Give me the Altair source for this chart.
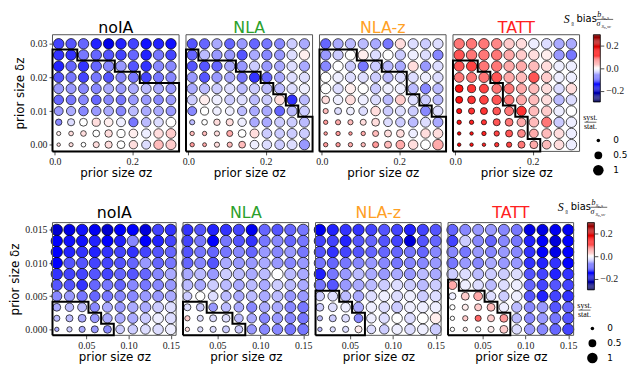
import numpy as np
import pandas as pd
import altair as alt

MODELS = ["noIA", "NLA", "NLA-z", "TATT"]
TITLE_COLORS = ["#000000", "#2ca02c", "#ffa025", "#ff2020"]

# grid of prior sizes
SIGMA_TOP = [0.01, 0.042, 0.074, 0.107, 0.139, 0.171, 0.203, 0.236, 0.268, 0.3]
DELTA_TOP = [0.0, 0.00333, 0.00667, 0.01, 0.01333, 0.01667, 0.02, 0.02333, 0.02667, 0.03]
SIGMA_BOT = [0.015, 0.03, 0.045, 0.06, 0.075, 0.09, 0.105, 0.12, 0.135, 0.15]
DELTA_BOT = [0.0, 0.00167, 0.00333, 0.005, 0.00667, 0.00833, 0.01, 0.01167, 0.01333, 0.015]

# S8 bias in units of 0.01, rows from largest delta (top) to zero (bottom)
BIAS_TOP = {
    "noIA": [
        [-11, -10, -9, -13, -17, -13, -11, -14, -13, -14],
        [-12, -12, -8, -9, -10, -11, -9, -13, -8, -11],
        [-13, -9, -12, -9, -7, -6, -10, -12, -7, -7],
        [-10, -8, -11, -8, -10, -7, -8, -11, -8, -7],
        [-6, -6, -7, -7, -5, -6, -5, -4, -5, -6],
        [-9, -8, -7, -9, -7, -8, -6, -6, -7, -6],
        [-6, -5, -7, -6, -5, -7, -4, -5, -5, -6],
        [-7, -2, 0, 2, 1, -1, -8, -4, -2, 0],
        [1, 2, 2, 0, 2, 0, 1, -1, 2, 3],
        [2, 2, 0, 2, 2, 0, 2, -2, 4, 3],
    ],
    "NLA": [
        [-10, -9, -5, -9, -6, -9, -8, -7, -3, -5],
        [-9, -4, -6, -6, -10, -5, -7, -6, -2, 1],
        [-10, -10, -9, -5, -6, -3, -6, -5, -2, -5],
        [-6, -10, -6, -5, -8, -12, -9, -5, -2, -2],
        [-5, -4, -3, -2, -4, -3, -4, -4, -2, -1],
        [-3, 1, -1, -3, -2, -4, -3, 2, -12, -4],
        [-7, 0, -1, -1, -4, -5, -5, -9, -4, -3],
        [-4, 0, 2, 2, -1, -5, -5, -3, -3, -4],
        [4, 4, 2, 5, 0, 2, -3, -3, -3, -3],
        [6, 5, 2, 4, 4, -1, -2, -3, -2, -6],
    ],
    "NLA-z": [
        [-9, -5, -4, -4, -5, -8, 2, -2, -3, -2],
        [-6, -3, 0, 1, -2, 0, -3, -1, -2, -7],
        [-7, 0, -3, -8, -3, -4, -5, 2, -6, -2],
        [0, -1, -2, -2, -3, -4, -2, -2, -1, -2],
        [0, -2, 1, 0, -3, -1, -1, -4, -7, -4],
        [2, -1, 2, -1, -2, -4, 3, -2, -3, -4],
        [4, -2, -1, -2, 2, -3, -2, -3, -7, -2],
        [6, 5, 4, 2, 2, -2, -3, -4, -2, -5],
        [6, 6, 6, 5, 4, 2, 2, -1, 2, 2],
        [6, 6, 5, 4, 6, 4, 5, 2, 0, 5],
    ],
    "TATT": [
        [8, 8, 8, 7, 3, 2, -1, -2, -5, -5],
        [10, 8, 8, 8, 5, 3, 2, 1, -6, -8],
        [10, 11, 8, 8, 5, 5, 4, 2, -1, -1],
        [8, 8, 8, 10, 5, 4, 10, 3, -1, -1],
        [14, 12, 11, 8, 8, 5, 4, 2, -2, 2],
        [14, 12, 11, 10, 8, 5, 4, 2, -4, -2],
        [14, 12, 12, 10, 8, 12, 4, 3, -1, 0],
        [14, 13, 12, 10, 8, 5, 4, 8, -3, -1],
        [17, 14, 13, 11, 10, 7, 5, 4, 2, -1],
        [17, 14, 13, 12, 11, 8, 5, 4, 2, -1],
    ],
}

BIAS_BOT = {
    "noIA": [
        [-19, -17, -14, -16, -19, -15, -15, -18, -11, -12],
        [-15, -14, -14, -13, -15, -13, -7, -15, -13, -11],
        [-15, -13, -12, -13, -12, -11, -12, -11, -10, -9],
        [-15, -10, -10, -11, -11, -10, -9, -6, -9, -8],
        [-12, -11, -11, -10, -11, -9, -10, -9, -7, -5],
        [-10, -10, -12, -9, -8, -9, -7, -8, -7, -6],
        [-7, -6, -8, -9, -8, -7, -7, -6, -6, -5],
        [-5, -4, -4, -7, -5, -6, -5, -5, -3, -2],
        [-4, -4, -5, -6, -5, -5, -5, -3, -1, -2],
        [-5, -3, -5, -6, -7, -3, -3, -2, -2, -1],
    ],
    "NLA": [
        [-12, -10, -13, -12, -11, -16, -9, -10, -9, -8],
        [-11, -8, -15, -8, -10, -12, -8, -7, -9, -8],
        [-10, -8, -9, -8, -7, -9, -6, -7, -6, -8],
        [-9, -7, -10, -5, -6, -6, -5, -6, -7, -6],
        [-5, -4, -6, -3, -4, -5, -4, 0, -4, -5],
        [-4, -5, -3, -4, -5, -4, -5, -3, -4, -5],
        [-3, 0, -2, -4, -5, -4, -5, -4, -6, -6],
        [-2, -3, -6, -4, -5, -7, -5, -5, -7, -8],
        [3, -2, -2, -2, -4, -5, -7, -6, -7, -8],
        [2, -2, -2, -3, -3, -6, -7, -7, -8, -8],
    ],
    "NLA-z": [
        [-16, -13, -12, -12, -11, -10, -11, -13, -11, -10],
        [-11, -11, -13, -10, -9, -10, -11, -18, -10, -9],
        [-10, -12, -11, -10, -9, -9, -9, -8, -9, -7],
        [-8, -9, -8, -7, -6, -7, -8, -7, -7, -6],
        [-13, -8, -6, -4, -5, -6, -5, -6, -4, -5],
        [-8, -10, -6, -5, -4, -3, -2, -3, -4, -3],
        [-3, -2, -4, -5, -2, -1, -2, -1, -3, -2],
        [-3, -2, -1, -5, -1, -2, -3, -1, -1, -1],
        [-4, -3, -2, -7, -1, -2, 0, -2, 0, 1],
        [-4, -2, -2, 1, -2, -3, -1, -2, -1, -3],
    ],
    "TATT": [
        [-9, -7, -6, -6, -7, -8, -17, -17, -16, -16],
        [-11, -3, -7, -9, -7, -8, -13, -15, -18, -15],
        [-7, -8, -6, -7, -6, -7, -12, -15, -17, -15],
        [-8, -6, -7, -5, -6, -6, -12, -13, -12, -15],
        [-3, -2, -4, -3, -3, -2, -10, -11, -13, -12],
        [5, -1, -2, -4, -2, -1, -9, -11, -10, -11],
        [-1, 3, 5, -2, -3, -1, -10, -13, -11, -12],
        [0, 1, 3, 4, -1, -4, -7, -6, -10, -9],
        [0, 3, 9, 3, 6, -4, -7, -6, -8, -10],
        [0, 1, 0, 1, 3, -2, -6, -7, -9, -11],
    ],
}

# syst./stat. ratio (circle size), same row order
RATIO_TOP = {
    "noIA": [
        [1.0, 1.0, 1.0, 1.0, 1.0, 1.0, 1.0, 1.0, 1.0, 1.0],
        [1.0, 1.0, 1.0, 1.0, 1.0, 1.0, 1.0, 1.0, 1.0, 1.0],
        [1.0, 1.0, 1.0, 1.0, 1.0, 1.0, 1.0, 1.0, 1.0, 1.0],
        [0.95, 0.95, 0.95, 0.95, 0.95, 0.95, 0.95, 0.95, 0.95, 0.95],
        [0.9, 0.9, 0.9, 0.9, 0.9, 0.9, 0.9, 0.9, 0.9, 0.9],
        [0.85, 0.85, 0.85, 0.85, 0.85, 0.85, 0.85, 0.85, 0.85, 0.85],
        [0.7, 0.75, 0.8, 0.8, 0.85, 0.85, 0.85, 0.85, 0.85, 0.85],
        [0.3, 0.4, 0.5, 0.55, 0.65, 0.7, 0.75, 0.8, 0.8, 0.85],
        [0.05, 0.1, 0.2, 0.35, 0.45, 0.55, 0.65, 0.75, 0.8, 0.85],
        [0.0, 0.05, 0.1, 0.25, 0.4, 0.5, 0.6, 0.7, 0.8, 0.9],
    ],
    "NLA": [
        [0.95, 0.95, 0.95, 0.95, 0.95, 0.95, 0.95, 0.95, 0.95, 0.95],
        [0.95, 0.95, 0.95, 0.95, 0.95, 0.95, 0.95, 0.95, 0.95, 0.95],
        [0.95, 0.95, 0.95, 0.95, 0.95, 0.95, 0.95, 0.95, 0.95, 0.95],
        [0.95, 0.95, 0.95, 0.95, 0.95, 0.95, 0.95, 0.95, 0.95, 0.95],
        [0.95, 0.95, 0.95, 0.95, 0.95, 0.95, 0.95, 0.95, 0.95, 0.95],
        [0.9, 0.9, 0.9, 0.9, 0.9, 0.9, 0.9, 0.9, 0.9, 0.9],
        [0.7, 0.55, 0.6, 0.65, 0.75, 0.85, 0.9, 0.9, 0.9, 0.9],
        [0.15, 0.2, 0.3, 0.4, 0.6, 0.8, 0.85, 0.9, 0.9, 0.9],
        [0.07, 0.07, 0.15, 0.25, 0.5, 0.7, 0.85, 0.85, 0.9, 0.9],
        [0.07, 0.03, 0.15, 0.15, 0.35, 0.65, 0.8, 0.85, 0.9, 0.95],
    ],
    "NLA-z": [
        [0.95, 0.95, 0.95, 0.95, 0.95, 0.95, 0.95, 0.95, 0.95, 0.95],
        [0.95, 0.95, 0.95, 0.95, 0.95, 0.95, 0.95, 0.95, 0.95, 0.95],
        [0.95, 0.95, 0.95, 0.95, 0.95, 0.95, 0.95, 0.95, 0.95, 0.95],
        [0.95, 0.95, 0.95, 0.95, 0.95, 0.95, 0.95, 0.95, 0.95, 0.95],
        [0.95, 0.95, 0.95, 0.95, 0.95, 0.95, 0.95, 0.95, 0.95, 0.95],
        [0.5, 0.8, 0.85, 0.9, 0.9, 0.9, 0.9, 0.9, 0.9, 0.9],
        [0.15, 0.38, 0.5, 0.65, 0.8, 0.85, 0.9, 0.9, 0.9, 0.9],
        [0.07, 0.15, 0.15, 0.25, 0.5, 0.65, 0.8, 0.85, 0.9, 0.9],
        [0.0, 0.07, 0.0, 0.07, 0.25, 0.38, 0.5, 0.65, 0.8, 0.85],
        [0.07, 0.07, 0.07, 0.07, 0.25, 0.38, 0.65, 0.8, 0.85, 1.0],
    ],
    "TATT": [
        [1.0, 1.0, 1.0, 1.0, 1.0, 1.0, 1.0, 1.0, 1.0, 1.0],
        [1.0, 1.0, 1.0, 1.0, 1.0, 1.0, 1.0, 1.0, 1.0, 1.0],
        [0.9, 0.95, 0.95, 1.0, 1.0, 1.0, 1.0, 1.0, 1.0, 1.0],
        [0.85, 0.9, 0.95, 0.95, 1.0, 1.0, 1.0, 1.0, 1.0, 1.0],
        [0.5, 0.55, 0.7, 0.8, 0.9, 0.9, 0.95, 0.95, 1.0, 1.0],
        [0.38, 0.5, 0.65, 0.8, 0.85, 0.9, 0.95, 0.95, 1.0, 1.0],
        [0.15, 0.26, 0.38, 0.5, 0.7, 0.82, 0.9, 0.95, 1.0, 1.0],
        [0.07, 0.07, 0.15, 0.38, 0.5, 0.66, 0.82, 0.9, 0.95, 1.0],
        [0.0, 0.0, 0.07, 0.16, 0.38, 0.51, 0.66, 0.82, 0.9, 1.0],
        [0.0, 0.0, 0.0, 0.07, 0.16, 0.38, 0.51, 0.66, 0.85, 1.0],
    ],
}

RATIO_BOT = {
    "noIA": [
        [1.2, 1.2, 1.2, 1.2, 1.2, 1.2, 1.2, 1.2, 1.2, 1.2],
        [1.2, 1.2, 1.2, 1.2, 1.2, 1.2, 1.2, 1.2, 1.2, 1.2],
        [1.2, 1.2, 1.2, 1.2, 1.2, 1.2, 1.2, 1.2, 1.2, 1.2],
        [1.2, 1.2, 1.2, 1.2, 1.2, 1.2, 1.2, 1.2, 1.2, 1.2],
        [1.2, 1.2, 1.2, 1.2, 1.2, 1.2, 1.2, 1.2, 1.2, 1.2],
        [1.1, 1.1, 1.1, 1.1, 1.1, 1.1, 1.1, 1.1, 1.1, 1.1],
        [0.9, 0.95, 1.0, 1.0, 1.05, 1.05, 1.1, 1.1, 1.1, 1.1],
        [0.5, 0.6, 0.7, 0.8, 0.9, 0.95, 1.0, 1.05, 1.1, 1.1],
        [0.26, 0.38, 0.5, 0.65, 0.8, 0.9, 0.95, 1.0, 1.05, 1.1],
        [0.07, 0.16, 0.26, 0.38, 0.5, 0.65, 0.8, 0.85, 1.0, 1.05],
    ],
    "NLA": [
        [1.2, 1.2, 1.2, 1.2, 1.2, 1.2, 1.2, 1.2, 1.2, 1.2],
        [1.2, 1.2, 1.2, 1.2, 1.2, 1.2, 1.2, 1.2, 1.2, 1.2],
        [1.2, 1.2, 1.2, 1.2, 1.2, 1.2, 1.2, 1.2, 1.2, 1.2],
        [1.2, 1.2, 1.2, 1.2, 1.2, 1.2, 1.2, 1.2, 1.2, 1.2],
        [1.2, 1.2, 1.2, 1.2, 1.2, 1.2, 1.2, 1.2, 1.2, 1.2],
        [1.1, 1.1, 1.1, 1.1, 1.1, 1.1, 1.1, 1.1, 1.1, 1.1],
        [0.7, 0.75, 0.85, 0.95, 1.0, 1.05, 1.1, 1.1, 1.1, 1.1],
        [0.38, 0.5, 0.65, 0.8, 0.85, 0.95, 1.0, 1.05, 1.1, 1.1],
        [0.16, 0.26, 0.38, 0.5, 0.65, 0.8, 0.95, 1.0, 1.05, 1.1],
        [0.07, 0.16, 0.26, 0.38, 0.5, 0.8, 0.95, 1.0, 1.1, 1.1],
    ],
    "NLA-z": [
        [1.2, 1.2, 1.2, 1.2, 1.2, 1.2, 1.2, 1.2, 1.2, 1.2],
        [1.2, 1.2, 1.2, 1.2, 1.2, 1.2, 1.2, 1.2, 1.2, 1.2],
        [1.2, 1.2, 1.2, 1.2, 1.2, 1.2, 1.2, 1.2, 1.2, 1.2],
        [1.2, 1.2, 1.2, 1.2, 1.2, 1.2, 1.2, 1.2, 1.2, 1.2],
        [1.2, 1.2, 1.2, 1.2, 1.2, 1.2, 1.2, 1.2, 1.2, 1.2],
        [1.2, 1.2, 1.2, 1.2, 1.2, 1.2, 1.2, 1.2, 1.2, 1.2],
        [0.75, 0.85, 0.95, 1.05, 1.1, 1.1, 1.15, 1.15, 1.15, 1.15],
        [0.5, 0.65, 0.8, 0.95, 1.0, 1.05, 1.1, 1.1, 1.15, 1.15],
        [0.16, 0.38, 0.5, 0.65, 0.8, 0.95, 1.0, 1.05, 1.1, 1.1],
        [0.07, 0.16, 0.26, 0.38, 0.65, 0.8, 0.95, 1.0, 1.05, 1.1],
    ],
    "TATT": [
        [1.15, 1.15, 1.15, 1.15, 1.15, 1.15, 1.15, 1.15, 1.15, 1.15],
        [1.15, 1.15, 1.15, 1.15, 1.15, 1.15, 1.15, 1.15, 1.15, 1.15],
        [1.15, 1.15, 1.15, 1.15, 1.15, 1.15, 1.15, 1.15, 1.15, 1.15],
        [1.15, 1.15, 1.15, 1.15, 1.15, 1.15, 1.15, 1.15, 1.15, 1.15],
        [1.15, 1.15, 1.15, 1.15, 1.15, 1.15, 1.15, 1.15, 1.15, 1.15],
        [0.66, 1.0, 1.05, 1.1, 1.1, 1.1, 1.15, 1.15, 1.15, 1.15],
        [0.38, 0.51, 0.66, 0.82, 0.95, 1.05, 1.1, 1.15, 1.15, 1.15],
        [0.16, 0.26, 0.38, 0.51, 0.82, 0.95, 1.05, 1.1, 1.15, 1.15],
        [0.07, 0.16, 0.26, 0.38, 0.51, 0.82, 1.0, 1.05, 1.1, 1.15],
        [0.07, 0.07, 0.16, 0.26, 0.51, 0.82, 1.0, 1.05, 1.1, 1.15],
    ],
}

# number of delta rows (from bottom) inside the outlined region, per sigma column
REGION_TOP = {
    "noIA": [9, 9, 8, 8, 8, 7, 7, 6, 6, 6],
    "NLA": [9, 8, 8, 8, 7, 7, 6, 5, 4, 3],
    "NLA-z": [9, 9, 9, 8, 8, 7, 7, 5, 4, 3],
    "TATT": [8, 8, 7, 6, 4, 3, 1, 0, 0, 0],
}
REGION_BOT = {
    "noIA": [3, 3, 3, 2, 1, 0, 0, 0, 0, 0],
    "NLA": [3, 3, 2, 2, 1, 0, 0, 0, 0, 0],
    "NLA-z": [4, 4, 3, 2, 0, 0, 0, 0, 0, 0],
    "TATT": [5, 4, 4, 3, 2, 0, 0, 0, 0, 0],
}

SIZE_LEGEND = [0.0, 0.5, 1.0]
SIZE_LABELS = ["0", "0.5", "1"]
CBAR_TICKS = [-0.2, 0.0, 0.2]

CSCALE = alt.Scale(domain=[-0.3, -0.15, 0.0, 0.15, 0.3],
                   range=["#00004c", "#0000ff", "#ffffff", "#ff0000", "#7f0000"],
                   interpolate="rgb")
SSCALE = alt.Scale(domain=[0, 1], range=[12.6, 113])

SERIF = "Liberation Serif"
SANS = "DejaVu Sans"
BAND = 24  # room above each plot area for titles


def txt(text, x, y, size, font=SANS, style="normal", align="center", color="black",
        baseline="middle"):
    return alt.Chart(pd.DataFrame({"t": [text]})).mark_text(
        text=text, font=font, fontSize=size, fontStyle=style, align=align,
        baseline=baseline, color=color).encode(x=alt.value(x), y=alt.value(y))


def hrule(x1, x2, y):
    return alt.Chart(pd.DataFrame({"t": [0]})).mark_rule(color="black", strokeWidth=0.6).encode(
        x=alt.value(x1), x2=alt.value(x2), y=alt.value(y))


def panel(model, tcolor, sig, dlt, bias, ratio, region, xdom, ydom, w, h,
          xvals, xfmt, yvals, yfmt, show_y, toff):
    T = BAND
    rows = []
    for r in range(10):
        for c in range(10):
            rows.append({"s": sig[c], "d": dlt[9 - r], "b": bias[r][c] / 100.0,
                         "q": ratio[r][c]})
    df = pd.DataFrame(rows)
    xs = alt.Scale(domain=xdom, nice=False, zero=False)
    ys = alt.Scale(domain=ydom, range=[T + h, T], nice=False, zero=False)
    xaxis = alt.Axis(values=xvals, format=xfmt, title="prior size σz")
    yaxis = alt.Axis(values=yvals, format=yfmt, title="prior size δz",
                     titlePadding=3) if show_y else None

    circles = alt.Chart(df).mark_circle(stroke="black", strokeWidth=0.7, opacity=1).encode(
        x=alt.X("s:Q", scale=xs, axis=xaxis),
        y=alt.Y("d:Q", scale=ys, axis=yaxis),
        color=alt.Color("b:Q", scale=CSCALE, legend=None),
        size=alt.Size("q:Q", scale=SSCALE, legend=None),
    )

    xe = [xdom[0]] + [(sig[i] + sig[i + 1]) / 2 for i in range(9)] + [xdom[1]]

    def ytop(n):
        if n == 0:
            return ydom[0]
        if n >= 10:
            return ydom[1]
        return (dlt[n - 1] + dlt[n]) / 2

    last = max(i for i in range(10) if region[i] > 0)
    pts = [(xe[0], ydom[0])]
    for i in range(last + 1):
        pts.append((xe[i], ytop(region[i])))
        pts.append((xe[i + 1], ytop(region[i])))
    pts.append((xe[last + 1], ydom[0]))
    pts.append((xe[0], ydom[0]))
    ldf = pd.DataFrame({"x": [p[0] for p in pts], "y": [p[1] for p in pts],
                        "i": list(range(len(pts)))})
    line = alt.Chart(ldf).mark_line(color="black", strokeWidth=2, strokeJoin="miter").encode(
        x=alt.X("x:Q", scale=xs, axis=xaxis),
        y=alt.Y("y:Q", scale=ys, axis=yaxis),
        order=alt.Order("i:Q"),
    )
    frame = alt.Chart(pd.DataFrame({"t": [0]})).mark_rect(
        fillOpacity=0, stroke="#555555", strokeWidth=1).encode(
        x=alt.value(0), x2=alt.value(w), y=alt.value(T), y2=alt.value(T + h))
    title = txt(model, w / 2, T - toff, 16, SANS, color=tcolor, baseline="alphabetic")
    return alt.layer(circles, frame, line, title).properties(width=w, height=h + T)


def legend_panel(h, ox):
    T = BAND
    edges = np.linspace(-0.3, 0.3, 61)
    cb = pd.DataFrame({"v0": edges[:-1], "v1": edges[1:],
                       "vm": (edges[:-1] + edges[1:]) / 2})
    ys = alt.Scale(domain=[-0.3, 0.3], range=[T + 68, T], nice=False, zero=False)
    bar = alt.Chart(cb).mark_rect().encode(
        x=alt.value(ox), x2=alt.value(ox + 7),
        y=alt.Y("v0:Q", scale=ys,
                axis=alt.Axis(orient="right", values=CBAR_TICKS, format=".1f", title=None)),
        y2="v1:Q",
        color=alt.Color("vm:Q", scale=CSCALE, legend=None),
    )
    frame = alt.Chart(pd.DataFrame({"lo": [-0.3], "hi": [0.3]})).mark_rect(
        fillOpacity=0, stroke="black", strokeWidth=0.8).encode(
        x=alt.value(ox), x2=alt.value(ox + 7),
        y=alt.Y("lo:Q", scale=ys, axis=None), y2="hi:Q")
    sl = pd.DataFrame({"lab": SIZE_LABELS, "q": SIZE_LEGEND})
    pscale = alt.Scale(domain=SIZE_LABELS, range=[T + 107, T + 137], padding=0)
    dots = alt.Chart(sl).mark_circle(color="black", opacity=1).encode(
        x=alt.value(ox + 5),
        y=alt.Y("lab:N", scale=pscale, axis=None, sort=SIZE_LABELS),
        size=alt.Size("q:Q", scale=SSCALE, legend=None))
    labs = alt.Chart(sl).mark_text(align="left", baseline="middle", font=SANS,
                                   fontSize=9, color="black").encode(
        x=alt.value(ox + 20),
        y=alt.Y("lab:N", scale=pscale, axis=None, sort=SIZE_LABELS),
        text="lab:N")
    parts = [
        bar, frame, dots, labs,
        txt("S", ox - 27, T - 16, 12, SERIF, "italic"),
        txt("₈", ox - 21, T - 13, 8, SERIF),
        txt("bias", ox - 17, T - 16, 10, SANS, align="left"),
        txt("b", ox + 6, T - 20, 8, SERIF, "italic"),
        txt("S₈,s", ox + 12, T - 18, 5, SERIF, "italic"),
        hrule(ox + 3, ox + 20, T - 15.5),
        txt("σ", ox + 5, T - 11, 8, SERIF, "italic"),
        txt("S₈,sv", ox + 13, T - 9, 5, SERIF, "italic"),
        txt("syst.", ox - 3, T + 84, 8, SERIF),
        hrule(ox - 9, ox + 3, T + 88.5),
        txt("stat.", ox - 3, T + 93, 8, SERIF),
    ]
    return alt.layer(*parts).resolve_scale(y="independent").properties(
        width=ox + 7, height=h + T)


top_panels = []
for k, m in enumerate(MODELS):
    top_panels.append(panel(m, TITLE_COLORS[k], SIGMA_TOP, DELTA_TOP, BIAS_TOP[m],
                            RATIO_TOP[m], REGION_TOP[m], [-0.006, 0.321], [-0.002, 0.0327],
                            128, 118, [0.0, 0.2], ".1f", [0.0, 0.01, 0.02, 0.03], ".2f",
                            k == 0, 1.5))
bot_panels = []
for k, m in enumerate(MODELS):
    bot_panels.append(panel(m, TITLE_COLORS[k], SIGMA_BOT, DELTA_BOT, BIAS_BOT[m],
                            RATIO_BOT[m], REGION_BOT[m], [0.0099, 0.1563], [-0.0009, 0.0161],
                            125 if k == 0 else 127, 114, [0.05, 0.1, 0.15], ".2f",
                            [0.0, 0.005, 0.01, 0.015], ".3f", k == 0, 5))

row1 = alt.hconcat(*top_panels, legend_panel(118, 7), spacing=7, bounds="flush")
row2 = alt.hconcat(*bot_panels, legend_panel(114, 7), spacing=7, bounds="flush")

chart = alt.vconcat(row1, row2, spacing=19).properties(
    padding={"left": 0, "top": 0, "right": 0, "bottom": 0}
).configure_view(stroke="transparent").configure_axis(
    grid=False, domain=False, tickSize=3.5, tickColor="#222222", tickWidth=0.8,
    labelFont=SERIF, labelFontSize=10, labelColor="#222222", labelPadding=2,
    titleFont=SANS, titleFontSize=12, titleFontWeight="normal", titleColor="black",
    titlePadding=1,
)

chart.save("out.html", embed_options={"renderer": "svg", "actions": False})
